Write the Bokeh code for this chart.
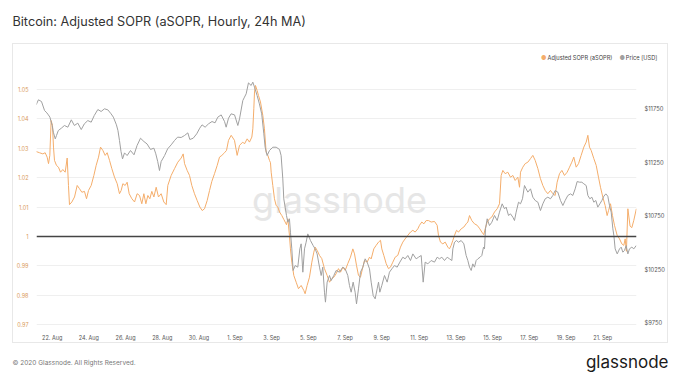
import pandas as pd
from bokeh.plotting import figure
from bokeh.layouts import column
from bokeh.models import (Range1d, LinearAxis, Span, Label, FixedTicker,
                          DatetimeTickFormatter, PrintfTickFormatter, CustomJSTickFormatter)
from bokeh.embed import file_html
from bokeh.resources import INLINE

START = pd.Timestamp("2020-08-21 00:00")

# ---- data (hours after 2020-08-21 00:00 UTC) ----
price_hours = [3, 6, 10, 14, 17, 19, 21, 24, 25.5, 28, 29.6, 32, 36, 40, 44.5, 49, 53, 57.5, 62, 66,
               70.6, 75, 79, 83.7, 88, 92.4, 96.8, 101, 104, 108, 110, 112, 114, 116, 118.6, 122,
               126.4, 131, 135, 139.5, 144, 148, 152.6, 157, 159.5, 162, 164.3, 166.5, 171, 175,
               179.6, 184, 188, 192.7, 197, 201.4, 204, 208.4, 213, 217, 220, 224, 228.4, 233, 237,
               240.6, 245, 249.4, 251.5, 254.6, 258, 262.5,
               266.8, 269, 273.3, 275.5, 277.7, 280.7, 284.2, 286.4, 288.6, 292, 295, 298, 300.8,
               302.5, 305.1, 308.2, 312.5, 316.9, 321.3, 323.4, 325.6, 326.9, 328.7, 330.4, 332.2,
               334.3, 335.6, 337.4, 339.1, 341.8, 345.2, 347.9, 349.6, 351.8, 354, 356.1, 358.3,
               361.8, 365.3, 367.9, 370.5, 373.6, 375.8, 377.9, 380.1, 381.4, 383.6, 386.7, 388.8,
               392.3, 395.4, 399.7, 404.1, 407.2, 410.6, 412.8, 415, 417.6, 420.2, 422, 424.6,
               427.2, 430.3, 433.3, 435.9, 439, 441.2, 443.8, 446.4, 449, 450.8, 452.5, 455.1,
               458.6, 462.1, 465.1, 468.2, 471.7, 475.2, 478.7, 482.6, 485.6, 489.1, 492.6, 495.7,
               500, 503.1, 506.6, 509.2, 511.8, 515.3, 519.6,
               524, 527.5, 530.5, 533.6, 537.1, 540.6, 543.6, 546.7, 548, 550.2, 552.8, 555.4,
               558.9, 562.4, 565.4, 567.6, 569.8, 572, 574.1, 576.3, 578.5, 580.7, 583.7, 585.9,
               588.1, 589.4, 590.7, 592.9, 595.9, 599, 602.5, 606, 609, 612.5, 615.6, 617.7, 620.8,
               623.4, 626.5, 628.6, 630.8, 633.9, 636.5, 639.1, 641.7, 643.9, 646.1, 649.6, 652.6,
               655.7, 659.2, 662.6, 665.7, 668.8, 672.2, 675.7, 678.8, 681.8, 685.3, 688.8, 691.9,
               694.9, 698.4, 701.9, 704.9, 708, 710.6, 713.7, 716.7, 719.3, 722.4, 724.6, 727.2,
               729.8, 732.4, 735, 737.6, 740.3, 742.9, 745.5, 748.1, 750.7, 752.9, 755.1, 757.3,
               758.6, 760.3, 763, 766, 768.2, 770.3, 772.5, 774.7, 776.9, 779, 782.1, 784.7, 787.8]
price_usd = [11787, 11834, 11818, 11734, 11712, 11693, 11672, 11594, 11531, 11469, 11500, 11547,
             11569, 11594, 11578, 11647, 11594, 11616, 11556, 11609, 11640, 11625, 11687, 11743,
             11725, 11750, 11740, 11703, 11672, 11600, 11547, 11454, 11351, 11282, 11338, 11313,
             11360, 11320, 11407, 11475, 11444, 11422, 11370, 11382, 11329, 11257, 11173, 11257,
             11313, 11376, 11413, 11454, 11485, 11482, 11500, 11525, 11463, 11475, 11516, 11569,
             11600, 11578, 11609, 11631, 11619, 11672, 11693, 11631, 11578, 11662, 11703, 11693,
             11594, 11656, 11827, 11859, 11890, 11992, 11968, 11999, 11952, 11874, 11796, 11703,
             11516, 11391, 11313, 11360, 11391, 11391, 11370, 11313, 11095, 10908, 10831, 10753,
             10690, 10722, 10597, 10441, 10239, 10285, 10270, 10441, 10488, 10223, 10441, 10503,
             10581, 10519, 10472, 10441, 10394, 10270, 10192, 10270, 10036, 9943, 10130, 10192,
             10145, 10192, 10239, 10223, 10270, 10254, 10192, 10099, 10036, 10130, 10036, 9927,
             10067, 10223, 10270, 10348, 10317, 10254, 10130, 10005, 9974, 10067, 10130, 10036,
             10099, 10192, 10130, 10223, 10254, 10285, 10270, 10317, 10363, 10348, 10379, 10332,
             10394, 10348, 10363, 10379, 10130, 10317, 10301, 10332,
             10317, 10363, 10348, 10363, 10332, 10363, 10348, 10332, 10441, 10503, 10519, 10503,
             10519, 10488, 10379, 10332, 10270, 10239, 10301, 10270, 10332, 10348, 10363, 10379,
             10457, 10441, 10628, 10722, 10659, 10690, 10753, 10706, 10784, 10862, 10815, 10831,
             10753, 10768, 10737, 10706, 10784, 10877, 10862, 10909, 11033, 11002, 10971, 11002,
             10924, 10893, 10877, 10799, 10862, 10909, 10924, 10909, 10940, 10986, 10971, 10893,
             10846, 10893, 10940, 10955, 10940, 11002, 11070, 11064, 11064, 11049, 11033, 10940,
             10909, 10924, 10877, 10893, 10831, 10862, 10893, 10933, 10955, 10933, 10846, 10784,
             10628, 10566, 10441, 10394, 10441, 10457, 10410, 10426, 10472, 10394, 10441, 10457,
             10441, 10472]

sopr_hours = [3, 7.4, 11.8, 14.8, 17.4, 19.2, 20.9, 22.6, 24.4, 25.7, 27, 29.6, 32.2, 34.9, 37.9,
              41, 43.6, 45.3, 46.6, 49.7, 53.2, 56.7, 59.7, 62.8, 66.2, 68.9, 71.5, 75, 78.5, 81.5,
              84.6, 87.2, 90.2, 93.3, 95.9, 99, 102, 105.5, 109, 112, 114.2, 116.4, 119.4, 122,
              124.7, 128.2, 131.7, 135.1, 138.2, 141.2, 143.9, 146.5, 149.1, 151.7, 154.3, 157,
              160, 163, 166.5, 170, 173.1, 175.2, 179.6, 184, 188.3, 192.7, 195.3, 197.1, 200.5,
              203.6, 206.6, 210.1, 213.6, 217.1, 220.2, 223.2, 226.7, 229.8, 232.8, 236.3, 239.8,
              242.8, 245.9, 249.4, 252, 254.6, 258.1,
              262.4, 265.9, 269, 273.3, 275.5, 279, 282, 285.1, 286.4, 287.7, 288.6, 289.9, 292,
              293.8, 296.4, 299.5, 301.6, 303.8, 306, 308.2, 309.5, 310.4, 312.5, 314.7, 316.9,
              319.1, 321.3, 324.3, 326.9, 328.7, 330.4, 332.2, 334.3, 335.6, 337.4, 340, 343.1,
              346.1, 349.6, 353.1, 354.8, 357.4, 360.5, 363.6, 366.2, 367.9, 370.5, 373.6, 376.6,
              380.1, 383.6, 386.7, 389.7, 392.3, 395.4, 398.4, 401.1, 404.1, 407.2, 410.6, 414.1,
              417.2, 419.4, 422, 424.6, 427.2, 430.3, 432.4, 435.9, 439, 441.2, 444.6, 447.7,
              450.8, 453.4, 455.1, 457.7, 460.8, 463.8, 466.4, 469.5, 472.6, 476, 479.5, 482.6,
              485.6, 489.1, 492.6, 495.7, 498.7, 502.2, 504.4, 507.4, 510.1, 513.1, 516.2, 519.6,
              524, 527.5, 529.2, 531.8, 534.9, 538, 541.4, 543.6, 545.8, 548, 550.2, 552.8, 555.4,
              558.9, 562.4, 565.4, 567.6, 569.8, 572.8, 576.3, 579.8, 583.3, 585.9, 588.5, 590.3,
              592.9, 595.9, 599, 602.5, 606, 609, 611.2, 613.4, 616.4, 619.9, 623.4, 626.5, 629.5,
              633, 635.2, 636.5, 639.5, 642.6, 646.1, 649.6, 652.6, 655.7, 659.2, 662.6, 665.7,
              668.8, 672.2, 675.7, 678.8, 681.8, 684.4, 687.5, 690.6, 694, 697.5, 700.6, 703.6,
              706.2, 709.3, 712.4, 715.8, 719.3, 722.4, 724.6, 726.7, 728.9, 732.4, 735.5, 738.5,
              741.1, 744.2, 747.2, 749.8, 751.6, 754.2, 756.8, 759.4, 762.9, 766, 769, 771.6,
              773.4, 775, 776.9, 779.8, 782.1, 784.7, 788]
asopr = [1.0288, 1.0284, 1.0280, 1.0284, 1.0269, 1.0247, 1.0275, 1.0393, 1.0376, 1.0303, 1.0258,
         1.0241, 1.0235, 1.0218, 1.0227, 1.0218, 1.0266, 1.0173, 1.0108, 1.0117, 1.0134, 1.0173,
         1.0162, 1.0150, 1.0153, 1.0128, 1.0156, 1.0173, 1.0207, 1.0241, 1.0269, 1.0303, 1.0292,
         1.0275, 1.0284, 1.0258, 1.0230, 1.0201, 1.0179, 1.0145, 1.0156, 1.0179, 1.0173, 1.0184,
         1.0145, 1.0128, 1.0117, 1.0145, 1.0139, 1.0111, 1.0145, 1.0111, 1.0139, 1.0128, 1.0153,
         1.0134, 1.0167, 1.0134, 1.0145, 1.0117, 1.0108, 1.0173, 1.0207, 1.0230, 1.0252, 1.0266,
         1.0280, 1.0247, 1.0224, 1.0207, 1.0173, 1.0145, 1.0122, 1.0100, 1.0088, 1.0094, 1.0122,
         1.0156, 1.0187, 1.0213, 1.0241, 1.0269, 1.0275, 1.0284, 1.0292, 1.0326, 1.0343,
         1.0326, 1.0275, 1.0309, 1.0320, 1.0314, 1.0331, 1.0320, 1.0337, 1.0365, 1.0433, 1.0490,
         1.0512, 1.0495, 1.0478, 1.0456, 1.0410, 1.0365, 1.0286, 1.0275, 1.0258, 1.0250, 1.0218,
         1.0173, 1.0128, 1.0105, 1.0100, 1.0083, 1.0071, 1.0058, 1.0049, 1.0040, 1.0060, 1.0004,
         0.9958, 0.9913, 0.9868, 0.9845, 0.9823, 0.9834, 0.9817, 0.9806, 0.9834, 0.9862, 0.9913,
         0.9947, 0.9964, 0.9953, 0.9936, 0.9925, 0.9891, 0.9868, 0.9845, 0.9857, 0.9862, 0.9874,
         0.9891, 0.9879, 0.9896, 0.9885, 0.9908, 0.9930, 0.9958, 0.9941, 0.9902, 0.9868, 0.9862,
         0.9896, 0.9919, 0.9913, 0.9930, 0.9924, 0.9958, 0.9970, 0.9981, 0.9987, 0.9958, 0.9936,
         0.9908, 0.9891, 0.9896, 0.9913, 0.9930, 0.9936, 0.9964, 0.9981, 0.9992, 1.0004, 1.0015,
         1.0021, 1.0015, 1.0026, 1.0038, 1.0049, 1.0043, 1.0054, 1.0054, 1.0049,
         1.0051, 1.0038, 1.0004, 0.9981, 0.9975, 0.9981, 0.9964, 0.9958, 0.9970, 0.9987, 1.0004,
         1.0021, 1.0015, 1.0026, 1.0032, 1.0043, 1.0049, 1.0071, 1.0054, 1.0043, 1.0038, 1.0026,
         1.0015, 1.0006, 1.0026, 1.0049, 1.0060, 1.0066, 1.0083, 1.0094, 1.0111, 1.0207, 1.0224,
         1.0213, 1.0218, 1.0201, 1.0207, 1.0190, 1.0201, 1.0167, 1.0218, 1.0235, 1.0247, 1.0252,
         1.0264, 1.0275, 1.0258, 1.0230, 1.0196, 1.0173, 1.0156, 1.0145, 1.0156, 1.0145, 1.0139,
         1.0184, 1.0213, 1.0224, 1.0207, 1.0218, 1.0235, 1.0252, 1.0269, 1.0235, 1.0247, 1.0275,
         1.0303, 1.0320, 1.0343, 1.0303, 1.0292, 1.0264, 1.0241, 1.0201, 1.0167, 1.0133, 1.0105,
         1.0071, 1.0088, 1.0111, 1.0071, 1.0038, 1.0004, 0.9992, 0.9975, 0.9970, 0.9992, 0.9950,
         1.0094, 1.0035, 1.0030, 1.0055, 1.0094]

tick_days = ["2020-08-22", "2020-08-24", "2020-08-26", "2020-08-28", "2020-08-30",
             "2020-09-01", "2020-09-03", "2020-09-05", "2020-09-07", "2020-09-09",
             "2020-09-11", "2020-09-13", "2020-09-15", "2020-09-17", "2020-09-19", "2020-09-21"]
sopr_ticks = [0.97, 0.98, 0.99, 1.0, 1.01, 1.02, 1.03, 1.04, 1.05]
price_ticks = [9750, 10250, 10750, 11250, 11750]

title_text = "Bitcoin: Adjusted SOPR (aSOPR, Hourly, 24h MA)"
footer_text = "© 2020 Glassnode. All Rights Reserved."
logo_text = "glassnode"
series_names = ["Adjusted SOPR (aSOPR)", "Price [USD]"]

ORANGE = "#f4ad6b"
GREY = "#a0a0a0"
FONT = "Inter"
W = 680


def bare_fig(height):
    f = figure(width=W, height=height, output_backend="svg", toolbar_location=None,
               x_axis_location=None, y_axis_location=None,
               x_range=Range1d(0, 1), y_range=Range1d(0, 1),
               min_border=0, min_border_left=0, min_border_right=0,
               min_border_top=0, min_border_bottom=0, frame_align=False)
    f.outline_line_color = None
    f.background_fill_color = None
    f.border_fill_color = None
    f.grid.visible = False
    return f


def lab(fig, x, y, text, size, color, align="left", font=FONT, level="annotation"):
    fig.add_layout(Label(x=x, y=y, x_units="canvas", y_units="canvas", text=text,
                         text_font=font, text_font_size=size, text_color=color,
                         text_align=align, text_baseline="middle", level=level))


# ---------------- header: title + legend ----------------
top = bare_fig(68)
lab(top, 12, 20.7, title_text, "12.7px", "#333333")
lab(top, 543.3, 56.7, "●", "6px", ORANGE, align="center")
lab(top, 547, 56.7, series_names[0], "5.7px", "#444444")
lab(top, 621.7, 56.7, "●", "6px", GREY, align="center")
lab(top, 625.3, 56.7, series_names[1], "5.7px", "#444444")

# ---------------- main chart ----------------
px = START + pd.to_timedelta(price_hours, unit="h")
sx = START + pd.to_timedelta(sopr_hours, unit="h")
x0 = START + pd.Timedelta(hours=3.47)
x1 = START + pd.Timedelta(hours=788.2)

p = figure(width=W, height=275, x_axis_type="datetime", output_backend="svg",
           toolbar_location=None, frame_align=False,
           x_range=Range1d(x0, x1), y_range=Range1d(0.96983, 1.05695),
           min_border_left=36, min_border_right=44, min_border_top=0, min_border_bottom=18)
p.outline_line_color = None
p.background_fill_color = None
p.border_fill_color = None
p.extra_y_ranges = {"price": Range1d(9724.8, 12126.6)}

p.xgrid.visible = False
p.ygrid.grid_line_color = "#efefef"
p.ygrid.grid_line_width = 1

ya = p.yaxis[0]
ya.ticker = FixedTicker(ticks=sopr_ticks)
ya.formatter = CustomJSTickFormatter(code="return String(+tick.toFixed(2));")
ya.axis_line_color = None
ya.major_tick_line_color = None
ya.minor_tick_line_color = None
ya.major_label_text_font = FONT
ya.major_label_text_font_size = "5.5px"
ya.major_label_text_color = "#d99a5a"
ya.major_label_standoff = 2

ra = LinearAxis(y_range_name="price", ticker=FixedTicker(ticks=price_ticks),
                formatter=PrintfTickFormatter(format="$%d"))
ra.axis_line_color = None
ra.major_tick_line_color = None
ra.minor_tick_line_color = None
ra.major_label_text_font = FONT
ra.major_label_text_font_size = "5.8px"
ra.major_label_text_color = "#555555"
ra.major_label_standoff = 2
p.add_layout(ra, "right")

xa = p.xaxis[0]
tick_ms = [pd.Timestamp(d).value // 10**6 for d in tick_days]
xa.ticker = FixedTicker(ticks=tick_ms)
fmt = "%e. %b"
xa.formatter = DatetimeTickFormatter(microseconds=fmt, milliseconds=fmt, seconds=fmt,
                                     minsec=fmt, minutes=fmt, hourmin=fmt, hours=fmt,
                                     days=fmt, months=fmt, years=fmt)
xa.axis_line_color = None
xa.major_tick_line_color = None
xa.minor_tick_line_color = None
xa.major_label_text_font = FONT
xa.major_label_text_font_size = "5.5px"
xa.major_label_text_color = "#555555"
xa.major_label_standoff = 3

# watermark (canvas coords of this figure, which starts at page y=68)
lab(p, 339, 131, logo_text, "36px", "#e6e6e6", align="center", level="underlay")

p.line(sx, asopr, line_color=ORANGE, line_width=1)
p.line(px, price_usd, line_color=GREY, line_width=1, y_range_name="price")
p.add_layout(Span(location=1.0, dimension="width", line_color="#444444", line_width=1.5))

# ---------------- footer ----------------
bot = bare_fig(38)
lab(bot, 12, 19, footer_text, "6.5px", "#777777")
lab(bot, 668, 18.5, logo_text, "17px", "#1a1a1a", align="right")

line = "linear-gradient(#e8e8e8, #e8e8e8)"
layout = column(top, p, bot, spacing=0, styles={
    "background-image": ", ".join([line] * 4),
    "background-size": "656px 1px, 656px 1px, 1px 300px, 1px 300px",
    "background-position": "12px 43px, 12px 342px, 12px 43px, 667px 43px",
    "background-repeat": "no-repeat",
})

open("out.html", "w").write(file_html(layout, INLINE))
